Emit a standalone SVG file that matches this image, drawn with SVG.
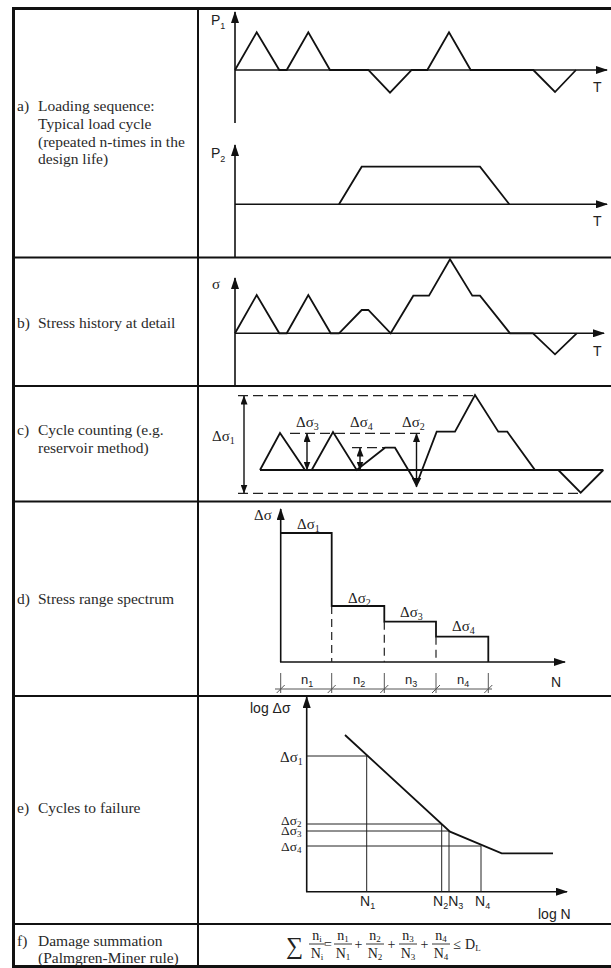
<svg xmlns="http://www.w3.org/2000/svg" width="611" height="968" viewBox="0 0 611 968">
<defs>
<marker id="ah" viewBox="0 0 12 8" refX="11" refY="4" markerWidth="12" markerHeight="8" markerUnits="userSpaceOnUse" orient="auto-start-reverse"><path d="M0,0 L12,4 L0,8 Z" fill="#111"/></marker>
<marker id="ca" viewBox="0 0 9 7" refX="8.5" refY="3.5" markerWidth="9" markerHeight="7" markerUnits="userSpaceOnUse" orient="auto-start-reverse"><path d="M0,0 L9,3.5 L0,7 Z" fill="#111"/></marker>
<marker id="cb" viewBox="0 0 10 10" refX="9.5" refY="5" markerWidth="10" markerHeight="10" markerUnits="userSpaceOnUse" orient="auto-start-reverse"><path d="M0,0 L10,5 L0,10 Z" fill="#111"/></marker>
<style>
.t{font-family:"Liberation Serif","Times New Roman",serif;font-size:15.5px;fill:#2a2a2a}
.g{font-family:"Liberation Serif","Times New Roman",serif;font-size:15px;fill:#222}
.ge{font-family:"Liberation Serif","Times New Roman",serif;font-size:13.5px;fill:#222}
.s{font-family:"Liberation Sans",Arial,sans-serif;font-size:14px;fill:#222}
.sm{font-family:"Liberation Sans",Arial,sans-serif;font-size:13px;fill:#222}
.ln{fill:none;stroke:#111;stroke-width:1.8;stroke-linejoin:miter}
.ax{fill:none;stroke:#111;stroke-width:1.6;marker-end:url(#ah)}
.th{fill:none;stroke:#222;stroke-width:1}
.da{fill:none;stroke:#222;stroke-width:1.3;stroke-dasharray:10 5}
.db{fill:none;stroke:#222;stroke-width:1.2;stroke-dasharray:8 5}
.ca{fill:none;stroke:#111;stroke-width:1.4;marker-start:url(#ca);marker-end:url(#ca)}
.grid{fill:none;stroke:#111}
</style>
</defs>
<rect width="611" height="968" fill="#fff"/>

<g id="table" class="grid">
<line x1="12" y1="8.5" x2="611" y2="8.5" stroke-width="3"/>
<line x1="13.5" y1="7" x2="13.5" y2="968" stroke-width="3"/>
<line x1="12" y1="966.5" x2="611" y2="966.5" stroke-width="3"/>
<line x1="198" y1="8" x2="198" y2="968" stroke-width="2"/>
<line x1="13" y1="257.5" x2="611" y2="257.5" stroke-width="2"/>
<line x1="13" y1="386" x2="611" y2="386" stroke-width="2"/>
<line x1="13" y1="501.5" x2="611" y2="501.5" stroke-width="2"/>
<line x1="13" y1="696" x2="611" y2="696" stroke-width="2"/>
<line x1="13" y1="924" x2="611" y2="924" stroke-width="2"/>
</g>

<g id="labels">
<text class="t" x="17" y="111">a)</text><text class="t" x="38" y="111">Loading sequence:</text>
<text class="t" x="38" y="129">Typical load cycle</text>
<text class="t" x="38" y="146.5">(repeated n-times in the</text>
<text class="t" x="38" y="164">design life)</text>
<text class="t" x="17" y="328">b)</text><text class="t" x="38" y="328">Stress history at detail</text>
<text class="t" x="17" y="435">c)</text><text class="t" x="38" y="435">Cycle counting (e.g.</text>
<text class="t" x="38" y="453">reservoir method)</text>
<text class="t" x="17" y="604">d)</text><text class="t" x="38" y="604">Stress range spectrum</text>
<text class="t" x="17" y="813">e)</text><text class="t" x="38" y="813">Cycles to failure</text>
<text class="t" x="17" y="946">f)</text><text class="t" x="38" y="946">Damage summation</text>
<text class="t" x="38" y="963">(Palmgren-Miner rule)</text>
</g>

<g id="a-loading">
<line class="ax" x1="235" y1="123" x2="235" y2="12"/>
<line class="ax" x1="235" y1="70" x2="607" y2="70"/>
<path class="ln" d="M235,70 L256.7,32.3 L279.3,70 L286.7,70 L308.3,32.3 L330,70 L368.3,70 L390,92.7 L411.7,70 L427.3,70 L449,32.3 L470.7,70 L533.3,70 L555,92 L576,70"/>
<text class="s" x="211" y="25">P<tspan font-size="9" dy="4">1</tspan></text>
<text class="s" x="593" y="92">T</text>
<line class="ax" x1="235" y1="257.5" x2="235" y2="145"/>
<line class="ax" x1="235" y1="204.3" x2="607" y2="204.3"/>
<path class="ln" d="M339,204.3 L361.7,166.7 L480,166.7 L509.3,204.3"/>
<text class="s" x="211" y="158">P<tspan font-size="9" dy="4">2</tspan></text>
<text class="s" x="593" y="226">T</text>
</g>

<g id="b-stress">
<line class="ax" x1="235" y1="386" x2="235" y2="278"/>
<line class="ax" x1="235" y1="333.3" x2="604" y2="333.3"/>
<path class="ln" d="M235,333.3 L256.7,295 L279.3,333.3 L286.7,333.3 L308.3,295 L330.7,333.3 L339,333.3 L361.7,310 L368.3,310 L390.7,333.3 L413.3,295.7 L429,295.7 L450,259.3 L472.3,295.7 L480,295.7 L510,333.3 L533,333.3 L555,354.3 L576.7,333.3"/>
<text class="g" x="212" y="289">σ</text>
<text class="s" x="593" y="356">T</text>
</g>

<g id="c-counting">
<line class="da" x1="238" y1="395.7" x2="475" y2="395.7"/>
<line class="da" x1="238" y1="493.3" x2="581" y2="493.3"/>
<line class="da" x1="290" y1="433.3" x2="425" y2="433.3"/>
<line class="da" x1="352" y1="447.7" x2="385" y2="447.7" stroke-dasharray="7 4"/>
<line class="ln" x1="260" y1="470" x2="603.3" y2="470"/>
<path class="ln" d="M260,470 L280,433 L305,470 L311.7,470 L333,432 L356.7,470 L385,447.7 L395,447.7 L416.7,484 L436.7,431.7 L455,431.7 L475,395 L498.3,431.7 L507.3,431.7 L535,470 L558.3,470 L580.7,492.7 L603.3,470"/>
<line class="ca" x1="244" y1="396" x2="244" y2="493"/>
<line class="ca" x1="307" y1="433.5" x2="307" y2="470"/>
<line class="ca" x1="360" y1="448" x2="360" y2="470"/>
<line fill="none" stroke="#111" stroke-width="1.4" marker-start="url(#ca)" marker-end="url(#cb)" x1="416.5" y1="433.5" x2="416.5" y2="487"/>
<text class="g" x="212" y="441">Δσ<tspan font-size="10" dy="3">1</tspan></text>
<text class="g" x="296" y="427">Δσ<tspan font-size="10" dy="3">3</tspan></text>
<text class="g" x="350" y="427">Δσ<tspan font-size="10" dy="3">4</tspan></text>
<text class="g" x="402" y="427">Δσ<tspan font-size="10" dy="3">2</tspan></text>
</g>

<g id="d-spectrum">
<line class="ax" x1="280.7" y1="662" x2="280.7" y2="509"/>
<line class="ax" x1="280" y1="662" x2="565" y2="662"/>
<path class="ln" d="M280.7,533 H331.7 V606 H384.3 V621.7 H436 V636.7 H488.3 V662"/>
<line class="db" x1="331.7" y1="606" x2="331.7" y2="662"/>
<line class="db" x1="384.3" y1="621.7" x2="384.3" y2="662"/>
<line class="db" x1="436" y1="636.7" x2="436" y2="662"/>
<g stroke="#555" stroke-width="1" fill="none">
<line x1="275" y1="689" x2="492" y2="689"/>
<path d="M280.7,673 V693 M331.7,673 V693 M384.3,673 V693 M436,673 V693 M488.3,673 V693"/>
<path d="M276.7,693 L284.7,685 M327.7,693 L335.7,685 M380.3,693 L388.3,685 M432,693 L440,685 M484.3,693 L492.3,685"/>
</g>
<text class="g" x="254" y="520">Δσ</text>
<text class="g" x="297" y="529">Δσ<tspan font-size="10" dy="3">1</tspan></text>
<text class="g" x="348" y="603">Δσ<tspan font-size="10" dy="3">2</tspan></text>
<text class="g" x="400" y="617">Δσ<tspan font-size="10" dy="3">3</tspan></text>
<text class="g" x="452" y="631">Δσ<tspan font-size="10" dy="3">4</tspan></text>
<text class="sm" x="301" y="684">n<tspan font-size="9" dy="3">1</tspan></text>
<text class="sm" x="353" y="684">n<tspan font-size="9" dy="3">2</tspan></text>
<text class="sm" x="405" y="684">n<tspan font-size="9" dy="3">3</tspan></text>
<text class="sm" x="457" y="684">n<tspan font-size="9" dy="3">4</tspan></text>
<text class="s" x="551" y="687">N</text>
</g>

<g id="e-failure">
<line class="ax" x1="306.7" y1="891.7" x2="306.7" y2="697"/>
<line class="ax" x1="306" y1="891.7" x2="567" y2="891.7"/>
<g class="th">
<path d="M306.7,756 H366.7 V891.7"/>
<path d="M306.7,824 H441.7 V891.7"/>
<path d="M306.7,831 H449 V891.7"/>
<path d="M306.7,846 H481 V891.7"/>
</g>
<path class="ln" d="M345,735 L450,831.7 L501.7,853.3 L553,853.3"/>
<text class="s" x="250" y="713">log Δσ</text>
<text class="g" x="280" y="762">Δσ<tspan font-size="10" dy="3">1</tspan></text>
<text class="ge" x="281" y="824.5">Δσ<tspan font-size="9" dy="2">2</tspan></text>
<text class="ge" x="281" y="835">Δσ<tspan font-size="9" dy="2">3</tspan></text>
<text class="ge" x="281" y="850.5">Δσ<tspan font-size="9" dy="2">4</tspan></text>
<text class="s" x="360" y="906">N<tspan font-size="9" dy="3">1</tspan></text>
<text class="s" x="433" y="906">N<tspan font-size="9" dy="3">2</tspan><tspan dy="-3">N</tspan><tspan font-size="9" dy="3">3</tspan></text>
<text class="s" x="475" y="906">N<tspan font-size="9" dy="3">4</tspan></text>
<text class="s" x="538" y="919">log N</text>
</g>

<g id="f-summation" font-family="Liberation Serif, Times New Roman, serif" fill="#222">
<text x="286" y="954" font-size="24">∑</text>
<g font-size="14" text-anchor="middle">
<text x="317" y="940">n<tspan font-size="9" dy="2">i</tspan></text>
<text x="317" y="958">N<tspan font-size="9" dy="2">i</tspan></text>
<text x="343" y="940">n<tspan font-size="9" dy="2">1</tspan></text>
<text x="343" y="958">N<tspan font-size="9" dy="2">1</tspan></text>
<text x="375" y="940">n<tspan font-size="9" dy="2">2</tspan></text>
<text x="375" y="958">N<tspan font-size="9" dy="2">2</tspan></text>
<text x="408" y="940">n<tspan font-size="9" dy="2">3</tspan></text>
<text x="408" y="958">N<tspan font-size="9" dy="2">3</tspan></text>
<text x="441" y="940">n<tspan font-size="9" dy="2">4</tspan></text>
<text x="441" y="958">N<tspan font-size="9" dy="2">4</tspan></text>
<text x="328" y="949">=</text>
<text x="358.5" y="949">+</text>
<text x="391.5" y="949">+</text>
<text x="424.5" y="949">+</text>
<text x="457" y="949">≤</text>
</g>
<text x="465" y="949" font-size="14">D<tspan font-size="9" dy="2">L</tspan></text>
<g stroke="#222" stroke-width="0.9">
<line x1="309" y1="944" x2="326" y2="944"/>
<line x1="334" y1="944" x2="352" y2="944"/>
<line x1="366" y1="944" x2="384" y2="944"/>
<line x1="399" y1="944" x2="417" y2="944"/>
<line x1="432" y1="944" x2="450" y2="944"/>
</g>
</g>
</svg>
